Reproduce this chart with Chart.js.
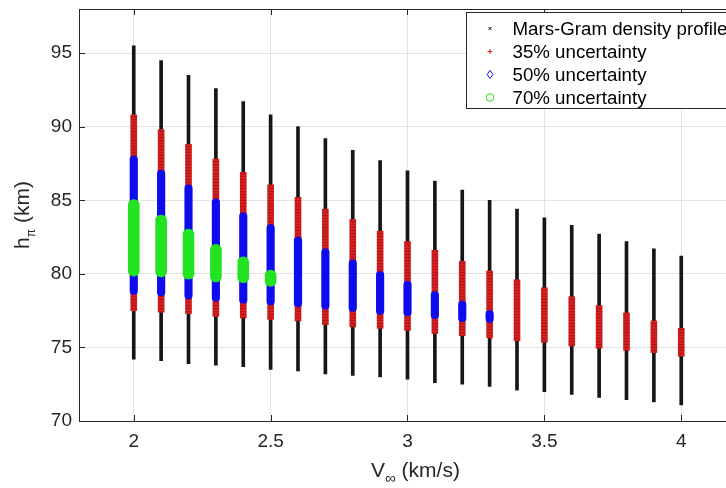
<!DOCTYPE html>
<html>
<head>
<meta charset="utf-8">
<title>Periapsis altitude vs hyperbolic excess speed</title>
<script src="https://cdn.jsdelivr.net/npm/chart.js@4.4.1/dist/chart.umd.min.js"></script>
<style>
html, body { margin: 0; padding: 0; background: #fff; overflow: hidden; }
#wrap { position: relative; width: 750px; height: 488px; }
</style>
</head>
<body>
<div id="wrap"><canvas id="altChart"></canvas></div>
<script>
// V-infinity samples (km/s)
const speeds = [2.0, 2.1, 2.2, 2.3, 2.4, 2.5, 2.6, 2.7, 2.8, 2.9, 3.0, 3.1, 3.2, 3.3, 3.4, 3.5, 3.6, 3.7, 3.8, 3.9, 4.0];

// periapsis altitude corridor (km) for each density case: upper and lower bound
const profileHigh = [95.5, 94.5, 93.5, 92.6, 91.7, 90.8, 90.0, 89.2, 88.4, 87.7, 87.0, 86.3, 85.7, 85.0, 84.4, 83.8, 83.3, 82.7, 82.2, 81.7, 81.2];
const profileLow = [74.2, 74.1, 73.9, 73.8, 73.7, 73.5, 73.4, 73.2, 73.1, 73.0, 72.85, 72.6, 72.5, 72.35, 72.1, 72.0, 71.8, 71.6, 71.45, 71.3, 71.1];
const unc35High = [90.8, 89.8, 88.8, 87.8, 86.9, 86.05, 85.2, 84.4, 83.7, 82.9, 82.2, 81.6, 80.85, 80.2, 79.6, 79.05, 78.45, 77.85, 77.35, 76.8, 76.3];
const unc35Low = [77.5, 77.4, 77.3, 77.1, 77.0, 76.9, 76.8, 76.55, 76.4, 76.3, 76.15, 75.95, 75.8, 75.65, 75.45, 75.35, 75.1, 74.95, 74.8, 74.65, 74.4];
const unc50High = [88.0, 87.05, 86.05, 85.1, 84.15, 83.35, 82.5, 81.7, 80.95, 80.15, 79.5, 78.8, 78.15, 77.5];
const unc50Low = [78.6, 78.5, 78.3, 78.15, 78.0, 77.9, 77.75, 77.6, 77.45, 77.25, 77.15, 76.95, 76.75, 76.7];
const unc70High = [85.05, 84.0, 83.05, 82.0, 81.15, 80.25];
const unc70Low = [79.85, 79.8, 79.65, 79.45, 79.4, 79.15];

const seriesLabels = ["Mars-Gram density profile", "35% uncertainty", "50% uncertainty", "70% uncertainty"];

const xTicks = [2, 2.5, 3, 3.5, 4];
const yTicks = [70, 75, 80, 85, 90, 95];

const FONT = "'Liberation Sans', Arial, Helvetica, sans-serif";
const AXIS_COLOR = "#262626";
const BLACK = "#161616";
const RED = "rgb(214,30,30)";
const BLUE = "rgb(12,12,238)";
const GREEN = "rgb(34,226,34)";

document.addEventListener("DOMContentLoaded", function () {

    drawChart();

});

function corridor(high, low) {
    return high.map((h, i) => ({ x: speeds[i], y: [low[i], h] }));
}

// stacked '+' markers give the red band a striped look
function redStripes() {
    const c = document.createElement("canvas");
    c.width = 6;
    c.height = 3;
    const g = c.getContext("2d");
    g.fillStyle = RED;
    g.fillRect(0, 0, 6, 3);
    g.fillStyle = "rgb(178,22,22)";
    g.fillRect(0, 2, 6, 1);
    return g.createPattern(c, "repeat");
}

function drawMark(ctx, kind, x, y) {
    ctx.beginPath();
    ctx.lineWidth = 1;
    if (kind === 0) {
        ctx.strokeStyle = BLACK;
        ctx.moveTo(x - 1.5, y - 1.5); ctx.lineTo(x + 1.5, y + 1.5);
        ctx.moveTo(x + 1.5, y - 1.5); ctx.lineTo(x - 1.5, y + 1.5);
    } else if (kind === 1) {
        ctx.strokeStyle = RED;
        ctx.moveTo(x - 2.5, y); ctx.lineTo(x + 2.5, y);
        ctx.moveTo(x, y - 2.5); ctx.lineTo(x, y + 2.5);
    } else if (kind === 2) {
        ctx.strokeStyle = BLUE;
        ctx.moveTo(x, y - 4); ctx.lineTo(x + 3, y); ctx.lineTo(x, y + 4); ctx.lineTo(x - 3, y); ctx.closePath();
    } else {
        ctx.strokeStyle = GREEN;
        ctx.arc(x, y, 3.8, 0, Math.PI * 2);
    }
    ctx.stroke();
}

// text with a subscript in the middle, centred on x, on the baseline
function subText(ctx, x, main, sub, rest, big, small) {
    ctx.font = big + "px " + FONT;
    const w1 = ctx.measureText(main).width;
    ctx.font = small + "px " + FONT;
    const w2 = ctx.measureText(sub).width;
    ctx.font = big + "px " + FONT;
    const w3 = ctx.measureText(rest).width;
    const x0 = x - (w1 + w2 + w3) / 2;
    ctx.fillText(main, x0, 0);
    ctx.font = small + "px " + FONT;
    ctx.fillText(sub, x0 + w1, 6);
    ctx.font = big + "px " + FONT;
    ctx.fillText(rest, x0 + w1 + w2, 0);
}

const boxPlugin = {
    id: "boxPlugin",
    afterDraw(chart) {
        const ctx = chart.ctx;
        const a = chart.chartArea;
        const xs = chart.scales.x;
        const ys = chart.scales.y;

        ctx.save();

        // axes box and inward ticks
        ctx.strokeStyle = AXIS_COLOR;
        ctx.lineWidth = 1;
        ctx.beginPath();
        ctx.moveTo(a.left, a.top + 0.5);
        ctx.lineTo(a.right, a.top + 0.5);
        ctx.moveTo(a.right - 0.5, a.top);
        ctx.lineTo(a.right - 0.5, a.bottom);
        xTicks.forEach(v => {
            const px = Math.round(xs.getPixelForValue(v)) + 0.5;
            ctx.moveTo(px, a.bottom); ctx.lineTo(px, a.bottom - 6);
            ctx.moveTo(px, a.top); ctx.lineTo(px, a.top + 6);
        });
        yTicks.forEach(v => {
            const py = Math.round(ys.getPixelForValue(v)) + 0.5;
            ctx.moveTo(a.left, py); ctx.lineTo(a.left + 6, py);
            ctx.moveTo(a.right, py); ctx.lineTo(a.right - 6, py);
        });
        ctx.stroke();

        // axis titles
        ctx.fillStyle = AXIS_COLOR;
        ctx.textBaseline = "alphabetic";
        ctx.textAlign = "left";

        ctx.save();
        ctx.translate(0, a.bottom + 56);
        subText(ctx, (a.left + a.right) / 2 + 8, "V", "\u221E", " (km/s)", 21, 15);
        ctx.restore();

        ctx.save();
        ctx.translate(a.left - 50.5, (a.top + a.bottom) / 2);
        ctx.rotate(-Math.PI / 2);
        subText(ctx, 0, "h", "\u03C0", " (km)", 21, 12);
        ctx.restore();

        // legend
        const lx = a.right - 269.5;
        const ly = a.top + 3.5;
        ctx.fillStyle = "#fff";
        ctx.fillRect(lx, ly, 280, 96);
        ctx.strokeStyle = AXIS_COLOR;
        ctx.strokeRect(lx, ly, 280, 96);
        ctx.font = "18.7px " + FONT;
        ctx.textBaseline = "middle";
        chart.data.datasets.forEach((ds, i) => {
            const y = ly + 16 + i * 23;
            drawMark(ctx, i, lx + 23.5, y);
            ctx.fillStyle = "#000";
            ctx.fillText(ds.label, lx + 46, y + 1);
        });

        ctx.restore();
    }
};

function noPadding(s) {
    s.paddingTop = 0;
    s.paddingBottom = 0;
    s.paddingLeft = 0;
    s.paddingRight = 0;
}

function drawChart() {

    const canvas = document.getElementById("altChart");

    if (!canvas) return;

    const ctx = canvas.getContext("2d");

    new Chart(ctx, {

        type: "bar",

        data: {
            datasets: [{
                label: seriesLabels[0],
                data: corridor(profileHigh, profileLow),
                backgroundColor: BLACK,
                barThickness: 3,
                order: 4
            }, {
                label: seriesLabels[1],
                data: corridor(unc35High, unc35Low),
                backgroundColor: redStripes(),
                barThickness: 6,
                order: 3
            }, {
                label: seriesLabels[2],
                data: corridor(unc50High, unc50Low),
                backgroundColor: BLUE,
                barThickness: 7.5,
                borderRadius: 3.7,
                borderSkipped: false,
                order: 2
            }, {
                label: seriesLabels[3],
                data: corridor(unc70High, unc70Low),
                backgroundColor: GREEN,
                barThickness: 11,
                borderRadius: 5.5,
                borderSkipped: false,
                order: 1
            }]
        },

        options: {
            responsive: true,
            maintainAspectRatio: false,
            animation: false,
            grouped: false,
            layout: { padding: { top: 9, right: 14, left: 0, bottom: 0 } },
            plugins: {
                legend: { display: false },
                tooltip: { enabled: false }
            },
            scales: {
                x: {
                    type: "linear",
                    min: 1.8,
                    max: 4.2,
                    offset: false,
                    grid: { offset: false, color: "#e2e2e2", drawTicks: false },
                    border: { color: AXIS_COLOR },
                    ticks: {
                        color: AXIS_COLOR,
                        font: { family: FONT, size: 19 },
                        padding: 9,
                        callback: v => String(v)
                    },
                    afterBuildTicks: s => { s.ticks = xTicks.map(v => ({ value: v })); },
                    afterFit: s => { s.height = 67; noPadding(s); }
                },
                y: {
                    min: 70,
                    max: 98,
                    beginAtZero: false,
                    grid: { color: "#e2e2e2", drawTicks: false },
                    border: { color: AXIS_COLOR },
                    ticks: {
                        color: AXIS_COLOR,
                        font: { family: FONT, size: 19 },
                        padding: 7,
                        callback: v => String(v)
                    },
                    afterBuildTicks: s => { s.ticks = yTicks.map(v => ({ value: v })); },
                    afterFit: s => { s.width = 79; noPadding(s); }
                }
            }
        },

        plugins: [boxPlugin]

    });

}
</script>
</body>
</html>
